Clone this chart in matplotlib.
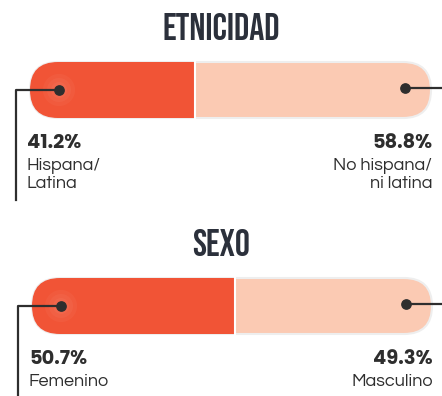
import matplotlib.pyplot as plt
from matplotlib.patches import FancyBboxPatch, Rectangle

titles = ['ETNICIDAD', 'SEXO']
left_pct = [41.2, 50.7]
right_pct = [58.8, 49.3]
left_labels = ['Hispana/\nLatina', 'Femenino']
right_labels = ['No hispana/\nni latina', 'Masculino']

dark = '#F15436'
light = '#FBCAB3'
ink = '#2E2E2E'
title_col = '#2B303B'
title_font = ['Bebas Neue', 'Oswald', 'DejaVu Sans']
body_font = ['Questrial', 'Didact Gothic', 'DejaVu Sans']
bold_font = ['Poppins', 'DejaVu Sans']

fig = plt.figure(figsize=(4.42, 3.96), dpi=100)
ax = fig.add_axes([0, 0, 1, 1])
ax.set_xlim(0, 442)
ax.set_ylim(396, 0)
ax.axis('off')

# one block per section: title y, bar top, bar left/right
blocks = [dict(ty=26, top=62, x0=30, x1=431, lx=16, bottom=200),
          dict(ty=243, top=278, x0=32, x1=432, lx=18, bottom=396)]
h = 56

for i, b in enumerate(blocks):
    ax.text(221, b['ty'], titles[i], ha='center', va='center', fontsize=27,
            family=title_font, color=title_col)
    x0, x1, top = b['x0'], b['x1'], b['top']
    w = x1 - x0
    cap = FancyBboxPatch((x0, top), w, h, boxstyle='round,pad=0,rounding_size=28',
                         facecolor=light, edgecolor='#EEEEEE', lw=1.5, zorder=1)
    ax.add_patch(cap)
    split = x0 + w * left_pct[i] / 100
    r1 = Rectangle((x0, top), split - x0, h, facecolor=dark, edgecolor='none', zorder=2)
    r1.set_clip_path(cap)
    ax.add_patch(r1)
    ax.plot([split, split], [top, top + h], color='white', lw=1.5, zorder=3)

    # soft highlight around left dot
    cy = top + h / 2
    for rad, a in [(16, 0.04), (12, 0.04), (8, 0.04)]:
        c = plt.Circle((x0 + 29, cy), rad, color='white', alpha=a, lw=0, zorder=3)
        c.set_clip_path(cap)
        ax.add_patch(c)

    # leader lines and dots
    ax.plot([x0 + 29, b['lx'], b['lx']], [cy, cy, b['bottom']], color=ink, lw=1.6, zorder=4)
    ax.plot([x1 - 26, 442], [cy - 2, cy - 2], color=ink, lw=1.6, zorder=4)
    ax.scatter([x0 + 29, x1 - 26], [cy, cy - 2], s=45, color=ink, zorder=5)

    ty = top + h + 26
    ax.text(x0 - 3, ty, f'{left_pct[i]}%', ha='left', va='center', fontsize=14,
            fontweight='bold', family=bold_font, color=ink)
    ax.text(x1 + 1, ty, f'{right_pct[i]}%', ha='right', va='center', fontsize=14,
            fontweight='bold', family=bold_font, color=ink)
    ax.text(x0 - 3, ty + 14, left_labels[i], ha='left', va='top', fontsize=13,
            family=body_font, color=ink, linespacing=1.2)
    ax.text(x1 + 1, ty + 14, right_labels[i], ha='right', va='top', fontsize=13,
            family=body_font, color=ink, linespacing=1.2, multialignment='right')

fig.savefig('out.png', dpi=100, facecolor='white')
